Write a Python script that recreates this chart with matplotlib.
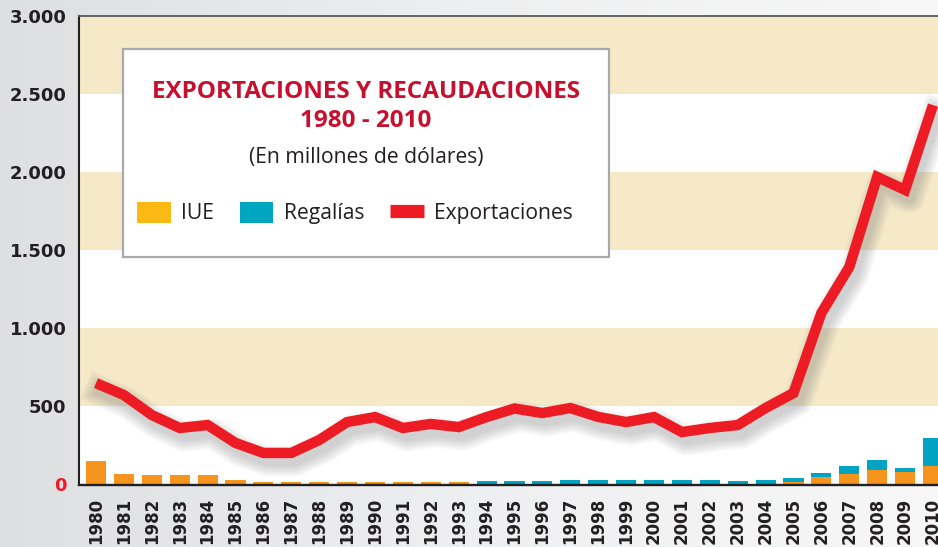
import numpy as np
import matplotlib.pyplot as plt
from matplotlib import transforms
from matplotlib.patches import Rectangle, Patch
from matplotlib.lines import Line2D

# Datos (millones de dólares)
anios = list(range(1980, 2011))
exportaciones = [647, 570, 442, 359, 378, 263, 199, 199, 282, 397,
                 429, 359, 385, 365, 429, 484, 455, 487, 430, 397,
                 429, 333, 359, 378, 487, 583, 1096, 1391, 1968, 1885, 2429]
iue = [150, 62, 56, 56, 56, 28, 15, 15, 15, 15,
       15, 15, 15, 15, 0, 0, 0, 0, 0, 0,
       0, 0, 0, 0, 0, 13, 43, 62, 92, 75, 113]
regalias = [0, 0, 0, 0, 0, 0, 0, 0, 0, 0,
            0, 0, 0, 0, 17, 17, 17, 24, 24, 24,
            24, 24, 24, 17, 24, 24, 26, 56, 64, 30, 184]
ticks_y = [0, 500, 1000, 1500, 2000, 2500, 3000]

ROJO = '#ed1c24'
ROJO_TITULO = '#c8102e'
NARANJA = '#f7941d'
TURQUESA = '#00a3c1'
BEIGE = '#f5e9c8'
OSCURO = '#231f20'

fig = plt.figure(figsize=(9.38, 5.47), dpi=100)

# fondo con degradado gris
fondo = fig.add_axes([0, 0, 1, 1], zorder=-10)
grad = np.linspace(0, 1, 256).reshape(1, -1)
fondo.imshow(grad, aspect='auto', cmap=plt.matplotlib.colors.LinearSegmentedColormap.from_list(
    'g', ['#dedfe1', '#eeeff0', '#f7f7f7']), extent=[0, 1, 0, 1])
fondo.axis('off')

ax = fig.add_axes([79 / 938, 1 - 484 / 547, 1 - 79 / 938, (484 - 16) / 547])
ax.set_facecolor('white')

# ejes (la posición del eje se fija antes de los ticks porque los reinicia)
ax.spines['right'].set_visible(False)
ax.spines['left'].set_color(OSCURO)
ax.spines['left'].set_linewidth(1.5)
ax.spines['bottom'].set_position(('outward', 1))
ax.spines['bottom'].set_color(OSCURO)
ax.spines['bottom'].set_linewidth(1.7)
ax.spines['top'].set_color('#58595b')
ax.spines['top'].set_linewidth(1.3)

# franjas horizontales
for y0 in (500, 1500, 2500):
    ax.axhspan(y0, y0 + 500, color=BEIGE, zorder=0, lw=0)

# barras apiladas
ax.bar(anios, iue, width=0.72, color=NARANJA, zorder=2)
ax.bar(anios, regalias, width=0.72, bottom=iue, color=TURQUESA, zorder=2)

# sombra difusa de la línea
for k in range(8):
    tr = transforms.offset_copy(ax.transData, fig=fig, x=4, y=-8, units='dots')
    ax.plot(anios, exportaciones, color='#6d6f73', lw=7 + 2.2 * k, alpha=0.045,
            transform=tr, solid_joinstyle='round', zorder=2.5)

ax.plot(anios, exportaciones, color=ROJO, lw=7.5, solid_joinstyle='miter',
        solid_capstyle='butt', zorder=3)

ax.set_xlim(1979.39, 2010.18)
ax.set_ylim(0, 3000)

ax.set_yticks(ticks_y)
ax.set_yticklabels([f"{v:,}".replace(',', '.') for v in ticks_y],
                   fontsize=13, fontweight='bold', color=OSCURO)
ax.get_yticklabels()[0].set_color(ROJO)
ax.set_xticks(anios)
ax.set_xticklabels([str(a) for a in anios], rotation=90, fontsize=12,
                   fontweight='bold', color=OSCURO, va='top')
ax.tick_params(axis='both', length=0)
ax.tick_params(axis='y', pad=9)
ax.tick_params(axis='x', pad=9)

# recuadro con título y leyenda
caja = Rectangle((123 / 938, 1 - 257 / 547), (609 - 123) / 938, (257 - 49) / 547,
                 transform=fig.transFigure, facecolor='white', edgecolor='#a7a9ac',
                 lw=1.6, zorder=4)
fig.patches.append(caja)

cx = 366 / 938
fig.text(cx, 1 - 92 / 547, 'EXPORTACIONES Y RECAUDACIONES', ha='center', va='center',
         fontsize=17.5, fontweight='bold', color=ROJO_TITULO, family='Open Sans', zorder=5)
fig.text(cx, 1 - 121 / 547, '1980 - 2010', ha='center', va='center',
         fontsize=17.5, fontweight='bold', color=ROJO_TITULO, family='Open Sans', zorder=5)
fig.text(cx, 1 - 157 / 547, '(En millones de dólares)', ha='center', va='center',
         fontsize=15.2, color=OSCURO, family='Open Sans', zorder=5)

manejadores = [Patch(facecolor='#fdb913', label='IUE'),
               Patch(facecolor='#00a6bf', label='Regalías'),
               Line2D([], [], color=ROJO, lw=9.5, solid_capstyle='butt', label='Exportaciones')]
leg = fig.legend(handles=manejadores, loc='center', bbox_to_anchor=(355 / 938, 1 - 213 / 547),
                 ncol=3, frameon=False, prop={'family': 'Open Sans', 'size': 15.2},
                 handlelength=1.6, handleheight=1.2, handletextpad=0.5, columnspacing=1.2)
leg.set_zorder(6)
for t in leg.get_texts():
    t.set_color(OSCURO)

fig.savefig('out.png', dpi=100)
